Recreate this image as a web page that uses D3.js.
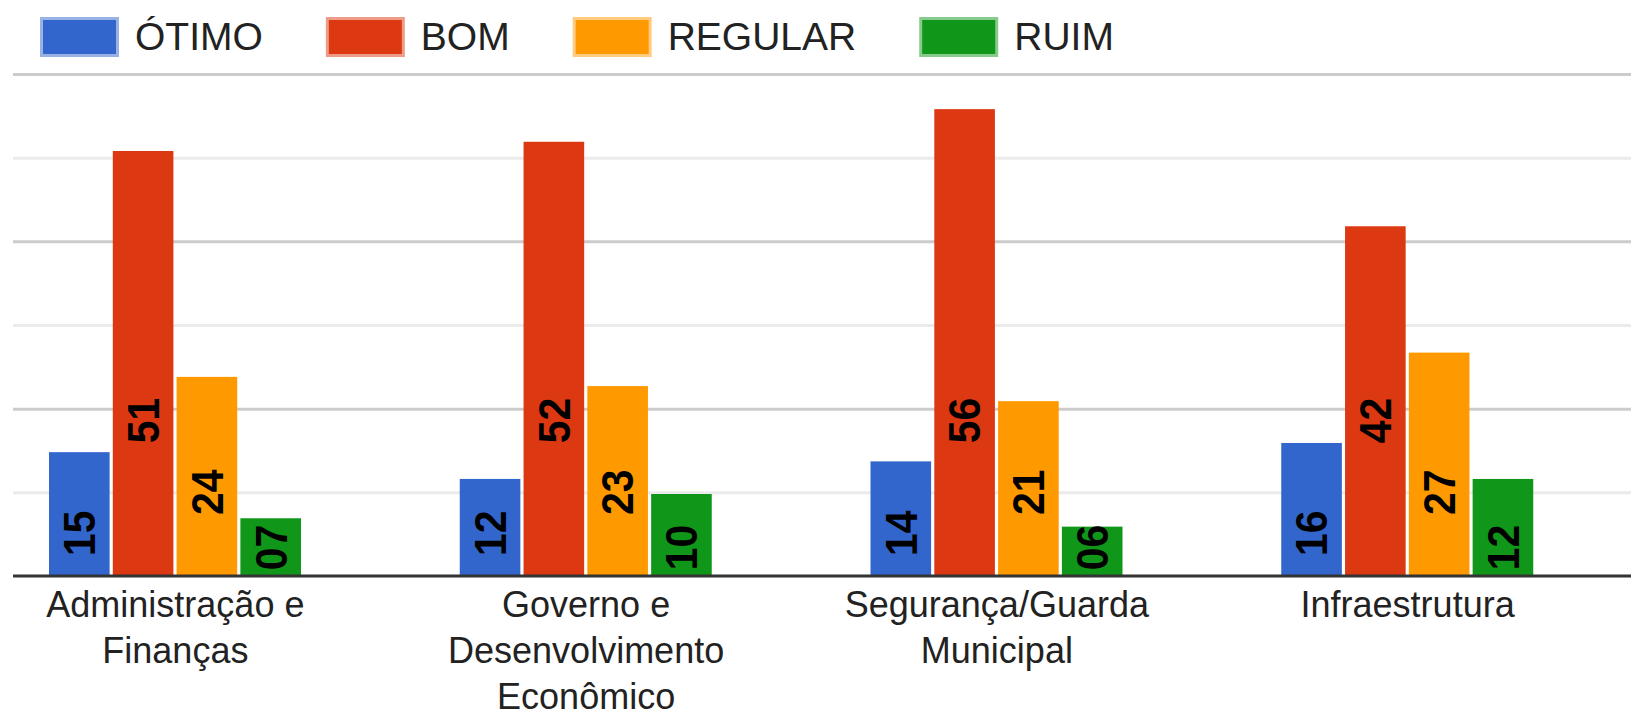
<!DOCTYPE html>
<html>
<head>
<meta charset="utf-8">
<script src="https://cdn.jsdelivr.net/npm/d3@7"></script>
<style>
  body { margin: 0; background: #fff; }
  svg { display: block; font-family: "Liberation Sans", Arial, sans-serif; }
</style>
</head>
<body>
<svg width="1631" height="713"></svg>
<script>
var categories = ["Administração e Finanças", "Governo e Desenvolvimento Econômico", "Segurança/Guarda Municipal", "Infraestrutura"];
var seriesNames = ["ÓTIMO", "BOM", "REGULAR", "RUIM"];
var otimo = [14.8, 11.6, 13.7, 15.9];
var bom = [50.8, 51.9, 55.8, 41.8];
var regular = [23.8, 22.7, 20.9, 26.7];
var ruim = [6.9, 9.8, 5.9, 11.6];
var yTicks = [0, 10, 20, 30, 40, 50, 60];

var colors = {"ÓTIMO": "#3366cc", "BOM": "#dc3912", "REGULAR": "#ff9900", "RUIM": "#109618"};
// where the rotated value label sits (in axis units) for each series
var labelLift = {"ÓTIMO": 5.1, "BOM": 18.6, "REGULAR": 10, "RUIM": 3.4};

var values = {"ÓTIMO": otimo, "BOM": bom, "REGULAR": regular, "RUIM": ruim};

var width = 1631, height = 713;
var plotLeft = 13, plotBase = 576, plotTop = 74;

var svg = d3.select("svg");

var x0 = d3.scaleBand().domain(categories).range([-30, 1613]);
var x1 = d3.scaleBand().domain(seriesNames).range([79, 331]).paddingInner(0.05);
var y = d3.scaleLinear().domain([0, 60]).range([plotBase, plotTop]);

// gridlines
var grid = svg.append("g")
    .attr("transform", "translate(" + plotLeft + ",0)")
    .call(d3.axisRight(y).tickValues(yTicks.slice(1)).tickSize(width - plotLeft).tickFormat(""));
grid.select(".domain").remove();
grid.selectAll(".tick line")
    .attr("stroke", function(d) { return d % 20 == 0 ? "#cccccc" : "#ebebeb"; })
    .attr("stroke-width", 3);

// bars
var rows = categories.map(function(c, i) {
    return seriesNames.map(function(s) { return {cat: c, key: s, value: values[s][i]}; });
});

var group = svg.selectAll("g.cat")
    .data(rows)
    .enter()
    .append("g")
    .attr("class", "cat")
    .attr("transform", function(d, i) { return "translate(" + x0(categories[i]) + ",0)"; });

group.selectAll("rect")
    .data(function(d) { return d; })
    .enter()
    .append("rect")
    .attr("x", function(d) { return x1(d.key); })
    .attr("y", function(d) { return y(d.value); })
    .attr("width", x1.bandwidth())
    .attr("height", function(d) { return y(0) - y(d.value); })
    .attr("fill", function(d) { return colors[d.key]; });

var fmt = d3.format("02d");
group.selectAll("text.val")
    .data(function(d) { return d; })
    .enter()
    .append("text")
    .attr("class", "val")
    .attr("transform", function(d) {
        return "translate(" + (x1(d.key) + x1.bandwidth() / 2) + "," + y(labelLift[d.key]) + ") rotate(-90) scale(0.93,1)";
    })
    .attr("text-anchor", "middle")
    .attr("dy", "0.36em")
    .attr("font-size", 44)
    .attr("font-weight", "bold")
    .attr("fill", "#000")
    .text(function(d) { return fmt(Math.round(d.value)); });

// baseline
svg.append("line")
    .attr("x1", plotLeft).attr("x2", width)
    .attr("y1", y(0)).attr("y2", y(0))
    .attr("stroke", "#333333")
    .attr("stroke-width", 3);

// category labels, wrapped
var maxW = 300;
categories.forEach(function(c) {
    var cx = x0(c) + x0.bandwidth() / 2;
    var t = svg.append("text")
        .attr("text-anchor", "middle")
        .attr("font-size", 36)
        .attr("fill", "#222222")
        .attr("x", cx)
        .attr("y", 616.5);
    var words = c.split(" "), line = [];
    var tspan = t.append("tspan").attr("x", cx).attr("dy", 0);
    words.forEach(function(w) {
        line.push(w);
        tspan.text(line.join(" "));
        if (tspan.node().getComputedTextLength() > maxW && line.length > 1) {
            line.pop();
            tspan.text(line.join(" "));
            line = [w];
            tspan = t.append("tspan").attr("x", cx).attr("dy", 46).text(w);
        }
    });
});

// legend
var lx = 40;
seriesNames.forEach(function(s) {
    var g = svg.append("g").attr("transform", "translate(" + lx + ",0)");
    g.append("rect").attr("x", 0).attr("y", 17).attr("width", 79).attr("height", 40)
        .attr("fill", colors[s]).attr("opacity", 0.5);
    g.append("rect").attr("x", 3).attr("y", 20).attr("width", 73).attr("height", 34)
        .attr("fill", colors[s]);
    var txt = g.append("text").attr("x", 95).attr("y", 50)
        .attr("font-size", 39).attr("fill", "#222222").text(s);
    lx += 95 + txt.node().getComputedTextLength() + 63;
});
</script>
</body>
</html>
